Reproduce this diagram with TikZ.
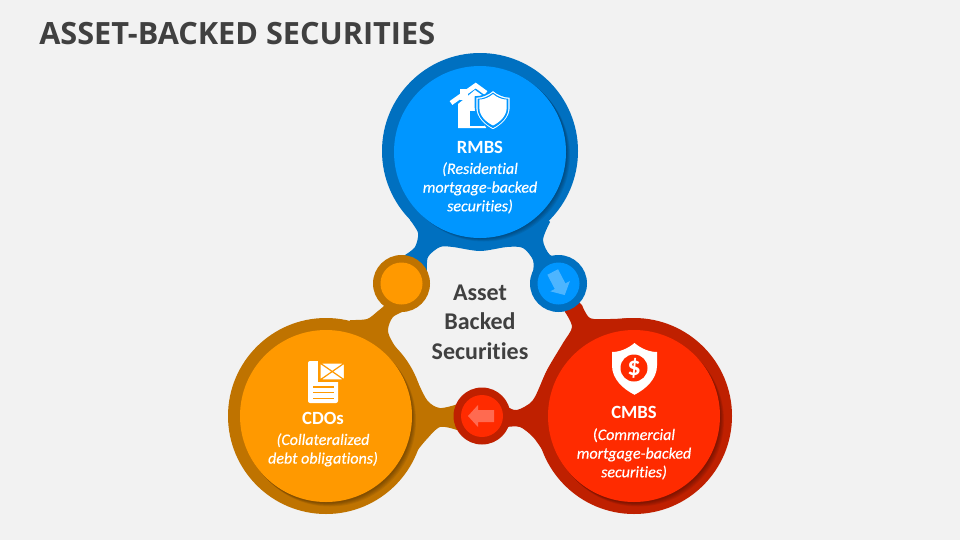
\documentclass[tikz,border=0pt]{standalone}
\usepackage{fontspec}
\setmainfont[Ligatures=NoCommon]{Carlito}
\newfontfamily\titlefont{Open Sans}
\newfontfamily\capfont[Ligatures=NoCommon,FakeBold=0.35]{Carlito}
\usepackage{tikz}
\usetikzlibrary{calc}
\definecolor{pagebg}{HTML}{F2F2F2}
\definecolor{textgray}{HTML}{404040}
\definecolor{bluedark}{HTML}{0070C0}
\definecolor{bluelite}{HTML}{0096FF}
\definecolor{bluearrow}{HTML}{4DB5FF}
\definecolor{orngdark}{HTML}{BF7300}
\definecolor{ornglite}{HTML}{FF9900}
\definecolor{reddark}{HTML}{BF2000}
\definecolor{redlite}{HTML}{FF2B00}
\definecolor{redarrow}{HTML}{FF6A50}
\newcommand*{\bigout}{98}
\newcommand*{\bigin }{86}
\newcommand*{\smlout}{28.5}
\newcommand*{\smlin }{21}
\newcommand*{\shieldpath}{(0,0) .. controls (.3,.25) and (.65,.4) .. (1,.4) -- (1,1) .. controls (1,1.6) and (.5,2.05) .. (0,2.3) .. controls (-.5,2.05) and (-1,1.6) .. (-1,1) -- (-1,.4) .. controls (-.65,.4) and (-.3,.25) .. (0,0) -- cycle}
\newcommand*{\arrowpath}{(0,-6) -- (16,-6) -- (16,-11) -- (26,0) -- (16,11) -- (16,6) -- (0,6) -- cycle}
\tikzset{
    captitle/.style = {text=white, font=\bfseries\fontsize{14}{17}\selectfont, inner sep=0pt},
    capsub/.style   = {text=white, font=\capfont\itshape\fontsize{12}{14}\selectfont, align=center, inner sep=0pt, anchor=north},
}
\begin{document}
\begin{tikzpicture}[x=0.75pt,y=-0.75pt]
    \useasboundingbox (0,0) rectangle (960,540);
    \fill [pagebg] (0,0) rectangle (960,540);

    \coordinate (rmbs) at (480,151);
    \coordinate (cdos) at (326,416);
    \coordinate (cmbs) at (634,416);
    \coordinate (dotorng) at (401.5,283.5);
    \coordinate (dotblue) at (558.5,283.5);
    \coordinate (dotred)  at (482,416);

    \node [anchor=west, inner sep=0pt, text=textgray, font=\titlefont\bfseries\fontsize{23}{27}\selectfont] (title) at (39,34) {ASSET-BACKED SECURITIES};

    % arms under the circles
    \fill [bluedark] (rmbs) -- plot [smooth] coordinates {(410,220) (418,233) (415,247) (405,255)} -- (dotorng)
        -- plot [smooth] coordinates {(427,272) (428,257) (440,247) (453,247) (480,251) (507,247) (523,248) (533,260) (533,272)} -- (dotblue)
        -- plot [smooth] coordinates {(573,263) (562,257) (550,255) (543,240) (550,222)} -- cycle;
    \fill [orngdark] (dotorng) -- plot [smooth] coordinates {(384,306) (378,311) (367,319) (350,320)} -- (cdos)
        -- plot [smooth] coordinates {(417,451) (426,440) (440,427) (457,430)} -- (dotred)
        -- plot [smooth] coordinates {(458,404) (440,408) (427,400) (413,373) (393,343) (388,330) (393,317) (407,310)} -- cycle;
    \fill [reddark] (dotred) -- plot [smooth] coordinates {(507,427) (520,427) (533,437) (543,451)} -- (cmbs)
        -- plot [smooth] coordinates {(630,318) (610,319) (590,318) (582,305)} -- (dotblue)
        -- plot [smooth] coordinates {(565,312) (572,327) (563,343) (547,370) (533,400) (517,410) (508,407)} -- cycle;

    % big circles
    \fill [bluedark] (rmbs) circle (\bigout);
    \fill [orngdark] (cdos) circle (\bigout);
    \fill [reddark]  (cmbs) circle (\bigout);
    \foreach \c in {rmbs,cdos,cmbs}{
        \foreach \i in {1,...,5}{
            \fill [black, opacity=.07] ($(\c)+(\i*.8,\i*.8+.5)$) circle (\bigin);
        }
    }
    \fill [bluelite] (480,152) circle (\bigin);
    \fill [ornglite] (cdos) circle (\bigin);
    \fill [redlite]  (cmbs) circle (\bigin);

    % small circles
    \fill [orngdark] (dotorng) circle (\smlout);
    \fill [ornglite] (dotorng) circle (\smlin);
    \fill [bluedark] (dotblue) circle (\smlout);
    \fill [bluelite] (dotblue) circle (\smlin);
    \fill [reddark]  (dotred)  circle (\smlout);
    \fill [redlite]  (dotred)  circle (\smlin);
    \fill [bluearrow] [shift={(552.7,272)}, rotate=-62.5] \arrowpath;
    \fill [redarrow]  [shift={(494,416)}, rotate=180] \arrowpath;

    % house and shield
    \fill [white] (458,104) -- (475,90) -- (486,98) -- (486,128) -- (458,128) -- cycle;
    \fill [white] (460,89) rectangle (468,100);
    \draw [white, line width=3.5pt] (451,103) -- (475.7,85.5) -- (486,93);
    \fill [bluelite] (470,111) rectangle (484,126);
    \begin{scope}[shift={(493,90)}, scale=17.5]
        \fill [white, draw=bluelite, line width=1.2pt] \shieldpath;
        \begin{scope}[scale=.88, shift={(0,.17)}]
            \fill [bluelite] \shieldpath;
        \end{scope}
        \begin{scope}[scale=.78, shift={(0,.3)}]
            \fill [white] \shieldpath;
        \end{scope}
    \end{scope}

    % document and envelope
    \fill [white, rounded corners=1.5pt] (308,361) rectangle (338,403);
    \fill [ornglite] (318,361) rectangle (346,382);
    \fill [white] (320,363) rectangle (344.5,380);
    \draw [ornglite, line width=.9pt] (320,363) -- (344.5,380) (320,380) -- (344.5,363) (320,363) rectangle (344.5,380);
    \foreach \y in {386.7,392.5,398.3}{
        \draw [ornglite, line width=1.2pt] (313,\y) -- (334,\y);
    }

    % dollar shield
    \begin{scope}[shift={(634.5,343)}, scale=22.5]
        \fill [white] \shieldpath;
    \end{scope}
    \fill [redlite] (634,368) circle (13.5);
    \node [inner sep=0pt, text=white, font=\bfseries\fontsize{20}{20}\selectfont] (dollar) at (634,368) {\$};

    \node [captitle] (rmbsname) at (480,147) {RMBS};
    \node [capsub] (rmbstext) at (480,162) {(Residential\\mortgage-backed\\securities)};
    \node [captitle] (cdosname) at (323,418) {CDOs};
    \node [capsub] (cdostext) at (323,433) {(Collateralized\\debt obligations)};
    \node [captitle] (cmbsname) at (634,412) {CMBS};
    \node [capsub] (cmbstext) at (634,428) {\textup{(}Commercial\\mortgage-backed\\securities)};

    \node [align=center, inner sep=0pt, text=textgray, font=\bfseries\fontsize{18}{22}\selectfont] (center) at (480,322) {Asset\\Backed\\Securities};
\end{tikzpicture}
\end{document}
